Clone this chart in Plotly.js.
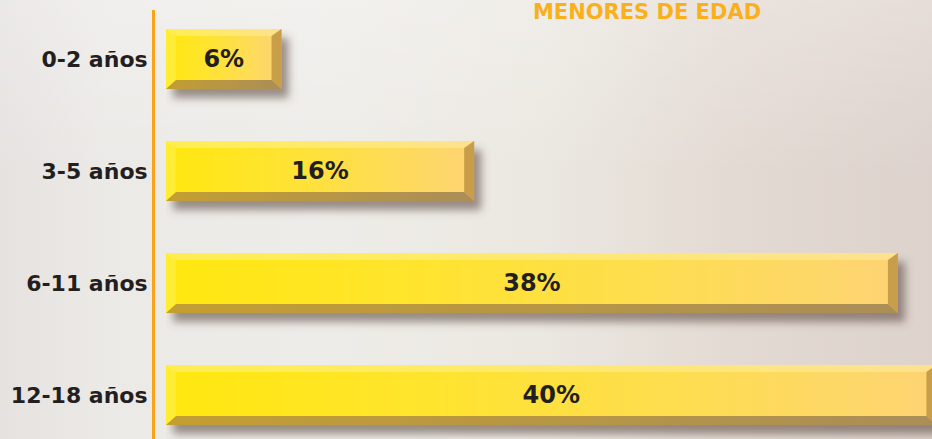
<!DOCTYPE html>
<html>
<head>
<meta charset="utf-8">
<script src="https://cdn.plot.ly/plotly-3.0.1.min.js"></script>
<style>
  html, body { margin: 0; padding: 0; }
  body {
    width: 932px; height: 439px; overflow: hidden;
    background:
      linear-gradient(to bottom, rgba(255,255,255,0.25) 0%, rgba(255,255,255,0) 40%),
      linear-gradient(to right, #e5e2e0 0%, #eceae7 12%, #eeece8 35%, #ebe8e1 58%, #e3dad3 78%, #ddd2cc 100%);
  }
  #chart { width: 932px; height: 439px; }
</style>
</head>
<body>
<div id="chart"></div>
<script>
// ---- data ----
const categories = ["0-2 años", "3-5 años", "6-11 años", "12-18 años"];
const values = [6, 16, 38, 40];
const chartTitle = "MENORES DE EDAD";

// ---- layout constants (styling) ----
const W = 932, H = 439;
const M = { l: 155, r: 0, t: 10, b: 0 };
const X_RANGE = [-0.57, 39.77];
const Y_RANGE = [3.393, -0.4375];
const BAR_W = 0.536;
const pxX = (W - M.l - M.r) / (X_RANGE[1] - X_RANGE[0]);
const pxY = (H - M.t - M.b) / Math.abs(Y_RANGE[0] - Y_RANGE[1]);
const FONT = "DejaVu Sans, Verdana, sans-serif";

// decorative bevel + shadow image for each bar, sized from the bar's value through the axis scale
const EXT_R = 18, EXT_B = 20;
function bevelSVG(lenPx, hPx) {
  const w = lenPx + EXT_R, h = hPx + EXT_B;
  const s = 10, t = 7, b = 9;
  const L = lenPx, Hh = hPx;
  const svg =
`<svg xmlns="http://www.w3.org/2000/svg" width="${w}" height="${h}" viewBox="0 0 ${w} ${h}" preserveAspectRatio="none">
<defs>
<filter id="bl" x="-20%" y="-50%" width="140%" height="200%"><feGaussianBlur stdDeviation="4"/></filter>
<linearGradient id="face" x1="0" y1="0" x2="1" y2="0">
<stop offset="0" stop-color="#ffea0a"/><stop offset="0.35" stop-color="#ffe52e"/>
<stop offset="0.75" stop-color="#fedb5e"/><stop offset="1" stop-color="#fdd27c"/></linearGradient>
<linearGradient id="bot" x1="0" y1="0" x2="1" y2="0">
<stop offset="0" stop-color="#bb9632"/><stop offset="1" stop-color="#a0835c"/></linearGradient>
</defs>
<rect x="7" y="9" width="${L}" height="${Hh}" fill="rgba(95,75,70,0.6)" filter="url(#bl)"/>
<rect x="0" y="0" width="${L}" height="${Hh}" fill="url(#face)"/>
<polygon points="0,0 ${L},0 ${L - s},${t} ${s},${t}" fill="rgba(255,250,200,0.4)"/>
<polygon points="0,0 ${s},${t} ${s},${Hh - b} 0,${Hh}" fill="rgba(255,255,180,0.25)"/>
<polygon points="0,${Hh} ${s},${Hh - b} ${L - s},${Hh - b} ${L},${Hh}" fill="url(#bot)"/>
<polygon points="${L},0 ${L},${Hh} ${L - s},${Hh - b} ${L - s},${t}" fill="rgba(145,100,40,0.55)"/>
</svg>`;
  return "data:image/svg+xml;charset=utf-8," + encodeURIComponent(svg);
}

const barHpx = BAR_W * pxY;
const images = values.map((v, i) => {
  const lenPx = v * pxX;
  return {
    source: bevelSVG(lenPx, barHpx),
    xref: "x", yref: "y",
    x: 0, y: i - BAR_W / 2,
    xanchor: "left", yanchor: "top",
    sizex: (lenPx + EXT_R) / pxX,
    sizey: (barHpx + EXT_B) / pxY,
    sizing: "stretch",
    layer: "below"
  };
});

const trace = {
  type: "bar",
  orientation: "h",
  y: categories,
  x: values,
  width: BAR_W,
  marker: { color: "rgba(255,224,60,0.12)", line: { width: 0 } },
  texttemplate: "%{x}%",
  textposition: "inside",
  insidetextanchor: "middle",
  constraintext: "none",
  textfont: { family: FONT, size: 24, weight: "bold", color: "#231f20" },
  hoverinfo: "skip",
  cliponaxis: true
};

const layout = {
  width: W, height: H,
  margin: M,
  paper_bgcolor: "rgba(0,0,0,0)",
  plot_bgcolor: "rgba(0,0,0,0)",
  showlegend: false,
  title: {
    text: chartTitle,
    font: { family: FONT, size: 21, weight: "bold", color: "#f9b01c" },
    x: 647 / W, xanchor: "center", xref: "container",
    y: 1 - 12 / H, yanchor: "middle", yref: "container"
  },
  xaxis: {
    range: X_RANGE, visible: false, fixedrange: true
  },
  yaxis: {
    type: "category",
    categoryorder: "array", categoryarray: categories,
    range: Y_RANGE,
    showline: true, linecolor: "#f8a31a", linewidth: 3,
    showgrid: false, zeroline: false, ticks: "",
    ticklabelstandoff: 0,
    tickfont: { family: FONT, size: 22, weight: "bold", color: "#231f20" },
    fixedrange: true
  },
  images: images,
  barmode: "overlay"
};

Plotly.newPlot("chart", [trace], layout, { displayModeBar: false, staticPlot: true });
</script>
</body>
</html>
